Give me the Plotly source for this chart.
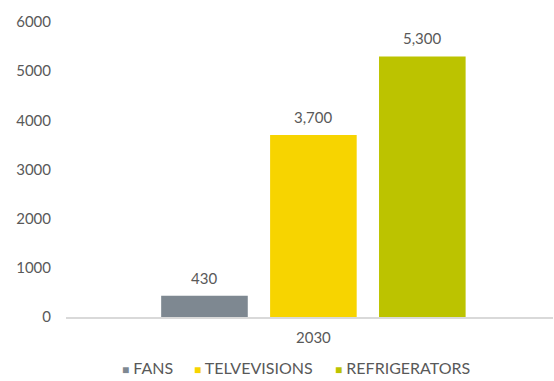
import plotly.graph_objects as go

# Appliance demand projection for 2030
years = ["2030"]
series_names = ["FANS", "TELVEVISIONS", "REFRIGERATORS"]
fans = [430]
televisions = [3700]
refrigerators = [5300]
y_ticks = [0, 1000, 2000, 3000, 4000, 5000, 6000]

colors = ["#7e8891", "#f7d400", "#bcc300"]
values = [fans, televisions, refrigerators]

GROUP_GAP = 0.329
BAR_GAP = 0.205
TEXT_COLOR = "#595959"

fig = go.Figure()
for i, (name, vals, col) in enumerate(zip(series_names, values, colors)):
    fig.add_trace(go.Bar(
        x=years,
        y=vals,
        name=name,
        marker=dict(color=col, line=dict(width=0)),
        offsetgroup=str(i),
        showlegend=False,
    ))

# Value labels above each bar, placed in data coordinates
slot = (1 - GROUP_GAP) / len(series_names)
for i, vals in enumerate(values):
    for j, v in enumerate(vals):
        fig.add_annotation(
            x=j - (1 - GROUP_GAP) / 2 + slot * (i + 0.5),
            y=v,
            xref="x",
            yref="y",
            text=f"{v:,}",
            showarrow=False,
            yanchor="bottom",
            yshift=7,
            font=dict(size=15, color=TEXT_COLOR),
        )

# Compact legend row: small coloured square followed by the series name
legend_x = [0.111, 0.259, 0.548]
for name, col, lx in zip(series_names, colors, legend_x):
    fig.add_annotation(
        x=lx,
        y=-0.17,
        xref="paper",
        yref="paper",
        xanchor="left",
        yanchor="middle",
        showarrow=False,
        text=f'<span style="color:{col};font-size:12px">■</span> {name}',
        font=dict(size=16, color=TEXT_COLOR),
    )

fig.update_layout(
    width=554,
    height=381,
    margin=dict(l=66, r=1, t=22, b=64, autoexpand=False),
    paper_bgcolor="white",
    plot_bgcolor="white",
    barmode="group",
    bargap=GROUP_GAP,
    bargroupgap=BAR_GAP,
    font=dict(family="Lato, 'Open Sans', sans-serif", size=15, color=TEXT_COLOR),
    showlegend=False,
    xaxis=dict(
        type="category",
        range=[-0.508, 0.492],
        showgrid=False,
        showline=True,
        linecolor="#d9d9d9",
        linewidth=2,
        ticks="",
        ticklabelstandoff=6,
        tickfont=dict(size=15, color=TEXT_COLOR),
    ),
    yaxis=dict(
        range=[0, 6000],
        tickvals=y_ticks,
        showgrid=False,
        zeroline=False,
        showline=False,
        ticks="",
        ticklabelstandoff=14,
        tickfont=dict(size=15, color=TEXT_COLOR),
    ),
)

fig.write_html("out.html")
